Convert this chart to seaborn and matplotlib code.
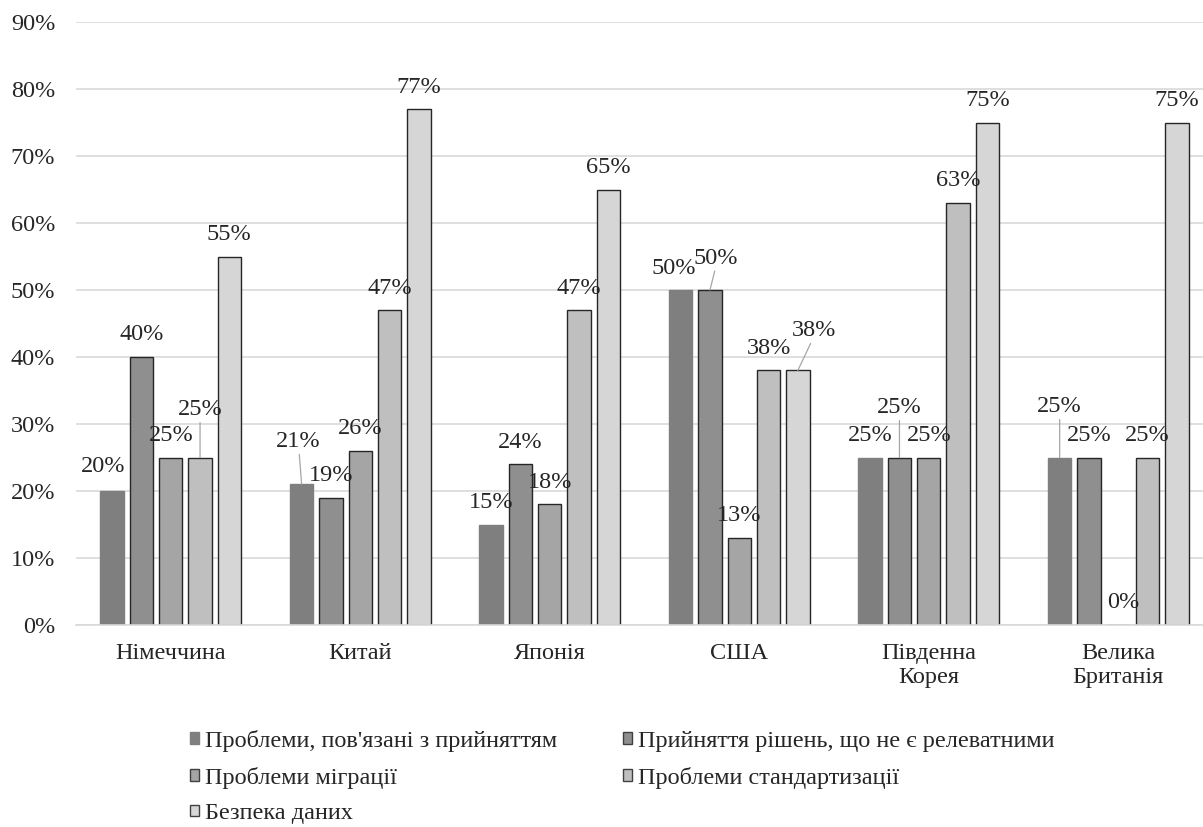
import matplotlib
matplotlib.use("Agg")
import matplotlib.pyplot as plt
import matplotlib.patches as mpatches
from matplotlib.ticker import FuncFormatter
import pandas as pd
import seaborn as sns

countries = ["Німеччина", "Китай", "Японія", "США", "Південна\nКорея", "Велика\nБританія"]
series = [
    "Проблеми, пов'язані з прийняттям",
    "Прийняття рішень, що не є релеватними",
    "Проблеми міграції",
    "Проблеми стандартизації",
    "Безпека даних",
]
adoption = [20, 21, 15, 50, 25, 25]
irrelevant_decisions = [40, 19, 24, 50, 25, 25]
migration = [25, 26, 18, 13, 25, 0]
standardization = [25, 47, 47, 38, 63, 25]
data_security = [55, 77, 65, 38, 75, 75]

values = [adoption, irrelevant_decisions, migration, standardization, data_security]
colors = ["#7f7f7f", "#8f8f8f", "#a5a5a5", "#bfbfbf", "#d6d6d6"]

rows = []
for s, vals in zip(series, values):
    for c, v in zip(countries, vals):
        rows.append({"country": c, "series": s, "value": v})
df = pd.DataFrame(rows)

sns.set_style("white")
plt.rcParams["font.family"] = ["Liberation Serif", "DejaVu Serif"]

FS = 17.5
TXT = "#262626"
W, H = 1203, 827
fig = plt.figure(figsize=(W / 100, H / 100), dpi=100)
ax = fig.add_axes([76 / W, (H - 625) / H, (1213 - 76) / W, (625 - 22) / H])

sns.barplot(data=df, x="country", y="value", hue="series", order=countries,
            hue_order=series, palette=colors, width=0.773, gap=0.2,
            edgecolor="#262626", linewidth=1.0, legend=False, ax=ax)

# first series is drawn without an outline
for bar in ax.containers[0]:
    bar.set_edgecolor(colors[0])

ax.set_ylim(0, 90)
ax.set_xlim(-0.5, 5.5)
ax.set_yticks(range(0, 91, 10))
ax.yaxis.set_major_formatter(FuncFormatter(lambda v, _: f"{v:.0f}%"))
ax.grid(axis="y", color="#d9d9d9", linewidth=1.2)
ax.set_axisbelow(True)
for side in ["left", "right", "top"]:
    ax.spines[side].set_visible(False)
ax.spines["bottom"].set_color("#d9d9d9")
ax.spines["bottom"].set_linewidth(1.2)
ax.tick_params(axis="both", length=0, labelsize=FS, colors=TXT)
ax.tick_params(axis="y", pad=15)
ax.tick_params(axis="x", pad=13)
ax.set_xlabel("")
ax.set_ylabel("")

# label placement (pixel offsets) and which labels get a leader line
offsets = {
    (0, 0): (-9, 24), (0, 3): (0, 48),
    (1, 0): (-3, 43),
    (3, 0): (-7, 22), (3, 1): (6, 32), (3, 4): (16, 40),
    (4, 1): (0, 50),
    (5, 0): (0, 51), (5, 2): (5, 23),
}
leaders = {(0, 3), (1, 0), (3, 1), (3, 4), (4, 1), (5, 0)}

for si, cont in enumerate(ax.containers):
    for gi, bar in enumerate(cont):
        v = values[si][gi]
        xc = bar.get_x() + bar.get_width() / 2
        dx, dy = offsets.get((gi, si), (0, 22))
        ax.annotate(f"{v}%", (xc, v), xytext=(dx, dy), textcoords="offset pixels",
                    ha="center", va="center", fontsize=FS, color=TXT,
                    annotation_clip=False)
        if (gi, si) in leaders:
            ax.annotate("", (xc, v), xytext=(dx * 0.8, dy - 13),
                        textcoords="offset pixels",
                        arrowprops=dict(arrowstyle="-", color="#a6a6a6", lw=0.9,
                                        shrinkA=0, shrinkB=0))

handles = [mpatches.Patch(facecolor=c, edgecolor="#404040" if i else c, linewidth=1.0)
           for i, c in enumerate(colors)]
order = [0, 2, 4, 1, 3]
fig.legend([handles[i] for i in order], [series[i] for i in order],
           loc="upper left", bbox_to_anchor=(190 / W, 1 - 730 / H), ncol=2,
           frameon=False, fontsize=FS, handlelength=0.37, handleheight=0.37,
           handletextpad=0.25, columnspacing=2.7, labelspacing=0.6,
           borderaxespad=0, borderpad=0, labelcolor=TXT)

fig.savefig("out.png", dpi=100)
